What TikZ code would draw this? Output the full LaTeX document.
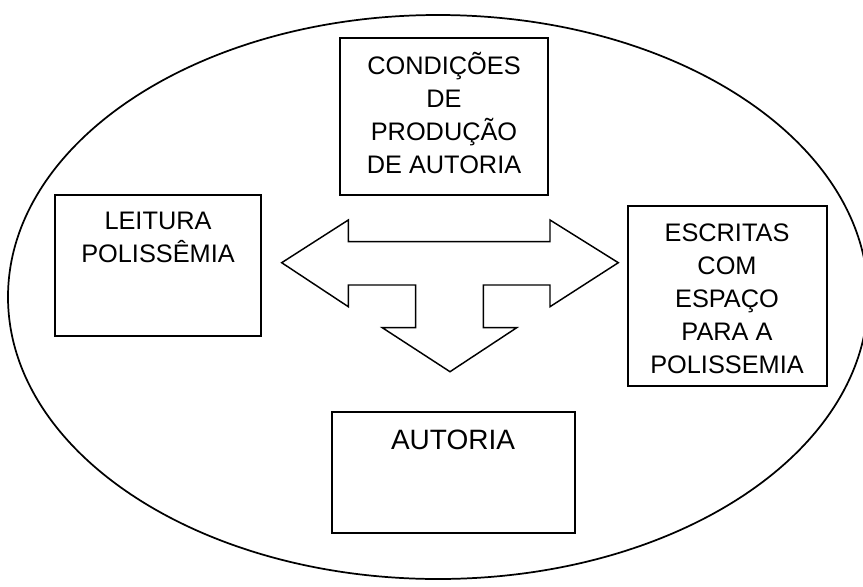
\documentclass[tikz,border=0pt]{standalone}
\usepackage{fontspec}
\setmainfont{Liberation Sans}
\begin{document}
\begin{tikzpicture}[x=0.75pt,y=-0.75pt,
  box/.style={draw,line width=1.3pt,rectangle,inner sep=0pt},
  txt/.style={align=center,inner sep=0pt,anchor=base,font=\fontsize{19}{24.75}\selectfont},
  outl/.style={draw,line width=1.1pt,line join=miter}]
\clip (0,0) rectangle (863,586);
\fill[white] (0,0) rectangle (863,586);
% ellipse
\draw[outl,line width=1.3pt] (438,297) ellipse [x radius=430, y radius=282];
% boxes
\node[box,minimum width=208*0.75pt,minimum height=157*0.75pt] (cond) at (444,116.5) {};
\node[box,minimum width=206*0.75pt,minimum height=141*0.75pt] (leit) at (158,265.5) {};
\node[box,minimum width=199*0.75pt,minimum height=180*0.75pt] (escr) at (727.5,296) {};
\node[box,minimum width=243*0.75pt,minimum height=121*0.75pt] (aut) at (453.5,472.5) {};
% texts (base anchor = baseline of last line)
\node[txt] (tcond) at (444,173) {CONDIÇÕES\\DE\\PRODUÇÃO\\DE AUTORIA};
\node[txt] (tleit) at (158,262.5) {LEITURA\\POLISSÊMIA};
\node[txt] (tescr) at (727,373.5) {ESCRITAS\\COM\\ESPAÇO\\PARA A\\POLISSEMIA};
\node[txt,font=\fontsize{21}{26}\selectfont] (taut) at (453,449) {AUTORIA};
% three-way arrow
\draw[outl] (281.7,262.7) -- (348.3,220) -- (348.3,241.7) -- (550,241.7) -- (550,220)
  -- (618.3,262.7) -- (550,306.7) -- (550,285) -- (483.3,285) -- (483.3,327.7)
  -- (516.7,327.7) -- (450,371.7) -- (382.3,327.7) -- (415.7,327.7) -- (415.7,285)
  -- (348.3,285) -- (348.3,306.7) -- cycle;
\end{tikzpicture}
\end{document}
